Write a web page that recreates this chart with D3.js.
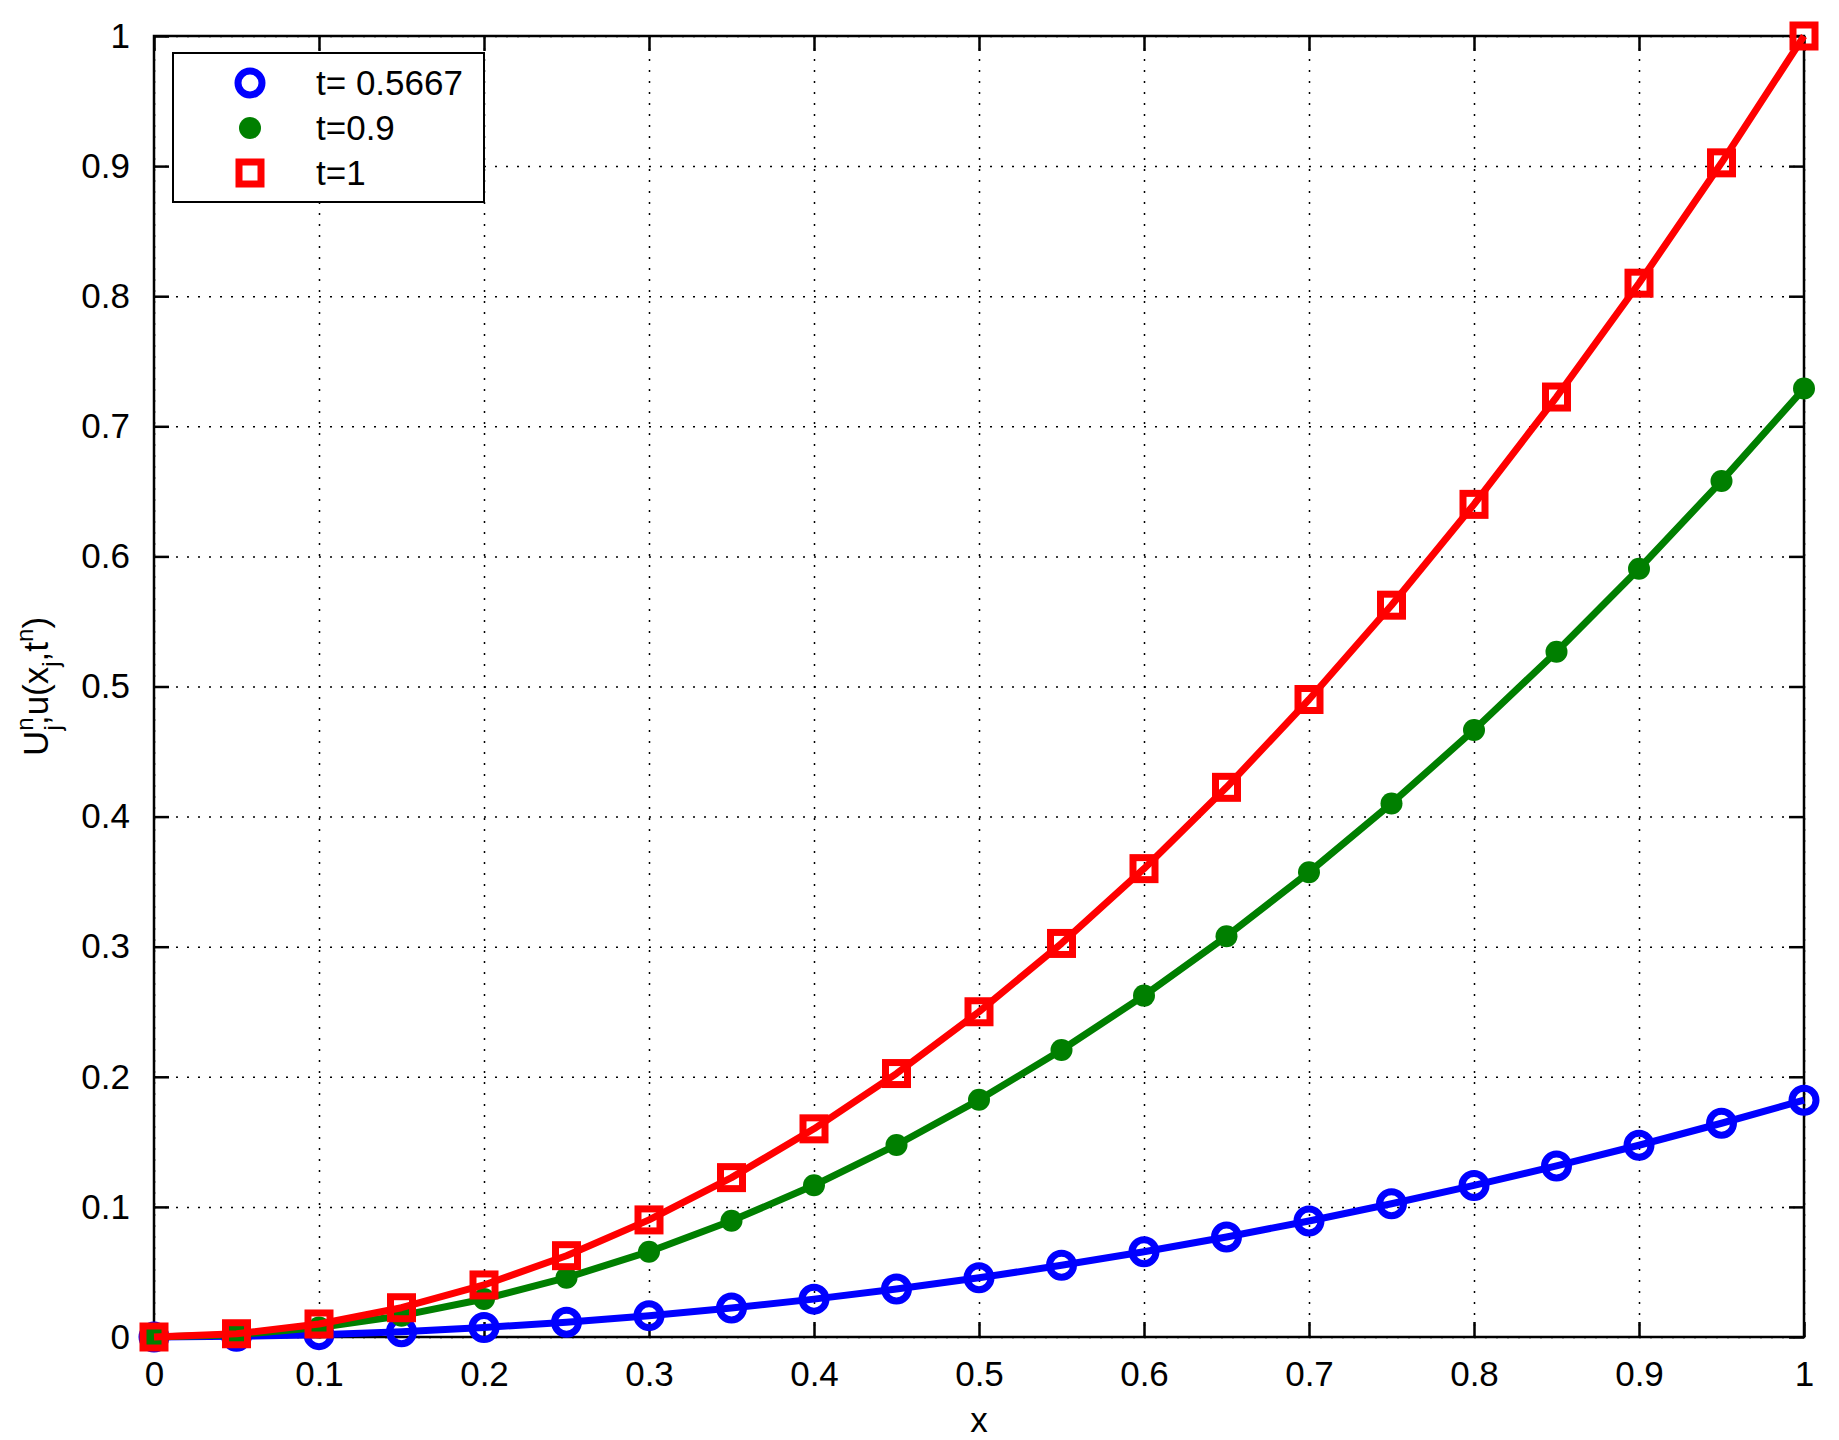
<!DOCTYPE html>
<html><head><meta charset="utf-8">
<script src="https://cdn.jsdelivr.net/npm/d3@7"></script>
<style>body{margin:0;background:#fff}svg{font-family:"Liberation Sans",Arial,sans-serif}</style>
</head><body><svg id="c" width="1839" height="1440"></svg>
<script>
const xs = [0,0.05,0.1,0.15,0.2,0.25,0.3,0.35,0.4,0.45,0.5,0.55,0.6,0.65,0.7,0.75,0.8,0.85,0.9,0.95,1];
const blue = [0,0.0005,0.0018,0.0041,0.0073,0.0114,0.0164,0.0223,0.0291,0.0369,0.0455,0.0551,0.0655,0.0769,0.0892,0.1024,0.1165,0.1315,0.1474,0.1643,0.182];
const green = [0,0.0018,0.0073,0.0164,0.0292,0.0456,0.0656,0.0893,0.1166,0.1476,0.1823,0.2206,0.2624,0.308,0.3572,0.4101,0.4666,0.5267,0.5905,0.6579,0.729];
const red = [0,0.0025,0.01,0.0225,0.04,0.0625,0.09,0.1225,0.16,0.2025,0.25,0.3025,0.36,0.4225,0.49,0.5625,0.64,0.7225,0.81,0.9025,1];
const ticks = [0,0.1,0.2,0.3,0.4,0.5,0.6,0.7,0.8,0.9,1];
const labels = ["t= 0.5667","t=0.9","t=1"];

const L=154,R=1804,T=36,B=1337;
const svg=d3.select("#c");
const x=d3.scaleLinear().domain([0,1]).range([L,R]);
const y=d3.scaleLinear().domain([0,1]).range([B,T]);
const fmt=d=>d===0?"0":d===1?"1":String(d);

// grid
svg.append("g").call(d3.axisBottom(x).tickValues(ticks).tickSize(-(B-T)).tickFormat(""))
  .attr("transform",`translate(0,${B})`).call(g=>{g.select(".domain").remove();g.selectAll("line").attr("stroke","#000").attr("stroke-width",1.5).attr("stroke-dasharray","2,9");});
svg.append("g").call(d3.axisLeft(y).tickValues(ticks).tickSize(-(R-L)).tickFormat(""))
  .attr("transform",`translate(${L},0)`).call(g=>{g.select(".domain").remove();g.selectAll("line").attr("stroke","#000").attr("stroke-width",1.5).attr("stroke-dasharray","2,9");});

// axes
const ax=(gen,tr)=>svg.append("g").attr("transform",tr).call(gen).call(g=>{
  g.select(".domain").remove();g.selectAll("line").attr("stroke","#000").attr("stroke-width",2.5);
  g.selectAll("text").attr("font-size",35).attr("fill","#000").attr("font-family","Liberation Sans, Arial, sans-serif");});
ax(d3.axisBottom(x).tickValues(ticks).tickSizeInner(-15).tickSizeOuter(0).tickPadding(24).tickFormat(fmt),`translate(0,${B})`);
ax(d3.axisTop(x).tickValues(ticks).tickSizeInner(-15).tickSizeOuter(0).tickFormat(""),`translate(0,${T})`);
ax(d3.axisLeft(y).tickValues(ticks).tickSizeInner(-15).tickSizeOuter(0).tickPadding(24).tickFormat(fmt),`translate(${L},0)`);
ax(d3.axisRight(y).tickValues(ticks).tickSizeInner(-15).tickSizeOuter(0).tickFormat(""),`translate(${R},0)`);
svg.append("rect").attr("x",L).attr("y",T).attr("width",R-L).attr("height",B-T).attr("fill","none").attr("stroke","#000").attr("stroke-width",2.5);

const line=d3.line().x((d,i)=>x(xs[i])).y(d=>y(d));
const series=[{v:blue,c:"#0000ff",m:"o"},{v:green,c:"#007f00",m:"d"},{v:red,c:"#ff0000",m:"s"}];
function marker(g,m,c,cx,cy){
  if(m==="o") g.append("circle").attr("cx",cx).attr("cy",cy).attr("r",12).attr("fill","none").attr("stroke",c).attr("stroke-width",7);
  else if(m==="d") g.append("circle").attr("cx",cx).attr("cy",cy).attr("r",11).attr("fill",c);
  else g.append("rect").attr("x",cx-11).attr("y",cy-11).attr("width",22).attr("height",22).attr("fill","none").attr("stroke",c).attr("stroke-width",7);
}
series.forEach(s=>{
  svg.append("path").datum(s.v).attr("d",line).attr("fill","none").attr("stroke",s.c).attr("stroke-width",7).attr("stroke-linejoin","round");
  const g=svg.append("g");
  s.v.forEach((d,i)=>marker(g,s.m,s.c,x(xs[i]),y(d)));
});

// legend
svg.append("rect").attr("x",173).attr("y",53).attr("width",311).attr("height",149).attr("fill","#fff").attr("stroke","#000").attr("stroke-width",2);
series.forEach((s,i)=>{
  const cy=83+i*45;
  marker(svg,s.m,s.c,250,cy);
  svg.append("text").attr("x",316).attr("y",cy+12).attr("font-size",35).text(labels[i]);
});

svg.append("text").attr("x",(L+R)/2).attr("y",1432).attr("text-anchor","middle").attr("font-size",35).text("x");
const yl=svg.append("text").attr("transform",`translate(48,${(T+B)/2}) rotate(-90)`).attr("text-anchor","middle").attr("font-size",35);
yl.append("tspan").text("U");
yl.append("tspan").attr("font-size",24).attr("dy",-15).text("n");
yl.append("tspan").attr("font-size",24).attr("dx",-13).attr("dy",28).text("j");
yl.append("tspan").attr("dy",-13).text(",u(x");
yl.append("tspan").attr("font-size",24).attr("dy",11).text("j");
yl.append("tspan").attr("dy",-11).text(",t");
yl.append("tspan").attr("font-size",24).attr("dy",-15).text("n");
yl.append("tspan").attr("dy",15).text(")");
</script></body></html>
